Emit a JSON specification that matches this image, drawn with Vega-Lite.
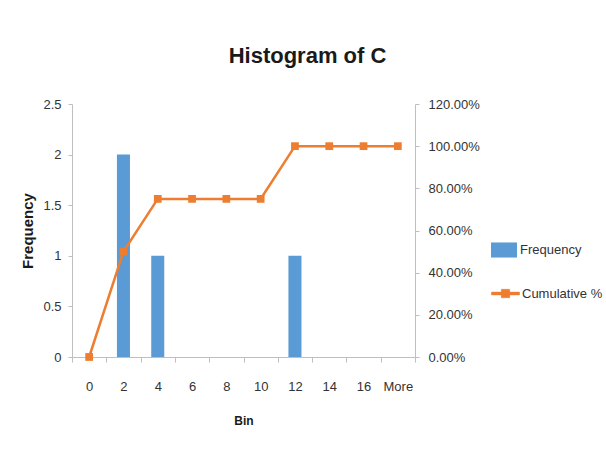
{
  "$schema": "https://vega.github.io/schema/vega-lite/v6.json",
  "autosize": {"type": "none"},
  "width": 343,
  "height": 253,
  "padding": {"left": 72, "top": 104, "right": 191, "bottom": 102},
  "background": "white",
  "config": {
    "view": {"stroke": null},
    "font": "Liberation Sans",
    "axis": {"grid": false, "domainColor": "#BFBFBF", "tickColor": "#BFBFBF", "labelColor": "#333333", "labelFont": "Liberation Sans", "labelFontSize": 13, "titleFont": "Liberation Sans", "titleColor": "#1a1a1a"},
    "legend": {"labelFont": "Liberation Sans", "labelFontSize": 13, "labelColor": "#333333"}
  },
  "title": {"text": "Histogram of C", "font": "Liberation Sans", "fontSize": 22, "fontWeight": "bold", "color": "#1a1a1a", "anchor": "middle", "frame": "group", "dx": 64, "offset": 30},
  "data": {"values": [
    {"bin": "0", "freq": 0, "cum": 0},
    {"bin": "2", "freq": 2, "cum": 0.5},
    {"bin": "4", "freq": 1, "cum": 0.75},
    {"bin": "6", "freq": 0, "cum": 0.75},
    {"bin": "8", "freq": 0, "cum": 0.75},
    {"bin": "10", "freq": 0, "cum": 0.75},
    {"bin": "12", "freq": 1, "cum": 1},
    {"bin": "14", "freq": 0, "cum": 1},
    {"bin": "16", "freq": 0, "cum": 1},
    {"bin": "More", "freq": 0, "cum": 1}
  ]},
  "encoding": {
    "x": {"field": "bin", "type": "nominal", "sort": null,
      "scale": {"paddingInner": 0, "paddingOuter": 0},
      "axis": {"title": "Bin", "titleFontSize": 12, "titleFontWeight": "bold", "titlePadding": 22, "labelAngle": 0, "tickBand": "extent", "tickSize": 5, "labelPadding": 18, "labelBaseline": "top"}}
  },
  "layer": [
    {
      "mark": {"type": "bar", "width": {"band": 0.38}},
      "encoding": {
        "y": {"field": "freq", "type": "quantitative", "scale": {"domain": [0, 2.5], "nice": false},
          "axis": {"title": "Frequency", "titleFontSize": 15, "titleFontWeight": "bold", "titlePadding": 7, "values": [0, 0.5, 1, 1.5, 2, 2.5], "format": "~g", "tickSize": 4, "labelPadding": 7}},
        "fill": {"datum": "Frequency", "type": "nominal", "scale": {"domain": ["Frequency"], "range": ["#5B9BD5"]},
          "legend": {"title": null, "orient": "none", "legendX": 419, "legendY": 133, "symbolType": "M-1,-0.58H1V0.58H-1Z", "symbolSize": 676, "labelOffset": 3, "symbolStrokeWidth": 0}}
      }
    },
    {
      "encoding": {
        "y": {"field": "cum", "type": "quantitative", "scale": {"domain": [0, 1.2], "nice": false},
          "axis": {"orient": "right", "title": null, "values": [0, 0.2, 0.4, 0.6, 0.8, 1, 1.2], "format": ".2%", "tickSize": 4, "labelPadding": 9}}
      },
      "layer": [
        {
          "mark": {"type": "line", "strokeWidth": 2.5},
          "encoding": {
            "stroke": {"datum": "Cumulative %", "type": "nominal", "scale": {"domain": ["Cumulative %"], "range": ["#ED7D31"]},
              "legend": {"title": null, "orient": "none", "legendX": 419, "legendY": 175, "symbolType": "M-1,-0.1H1V0.1H-1Z M-0.3,-0.3H0.3V0.3H-0.3Z", "symbolSize": 784, "labelOffset": 2, "symbolStrokeWidth": 0.5,
                "encode": {"symbols": {"update": {"fill": {"value": "#ED7D31"}, "stroke": {"value": "#ED7D31"}}}}}}
          }
        },
        {
          "mark": {"type": "point", "shape": "square", "filled": true, "size": 60, "color": "#ED7D31", "opacity": 1},
          "encoding": {}
        }
      ]
    }
  ],
  "resolve": {"scale": {"y": "independent"}}
}
